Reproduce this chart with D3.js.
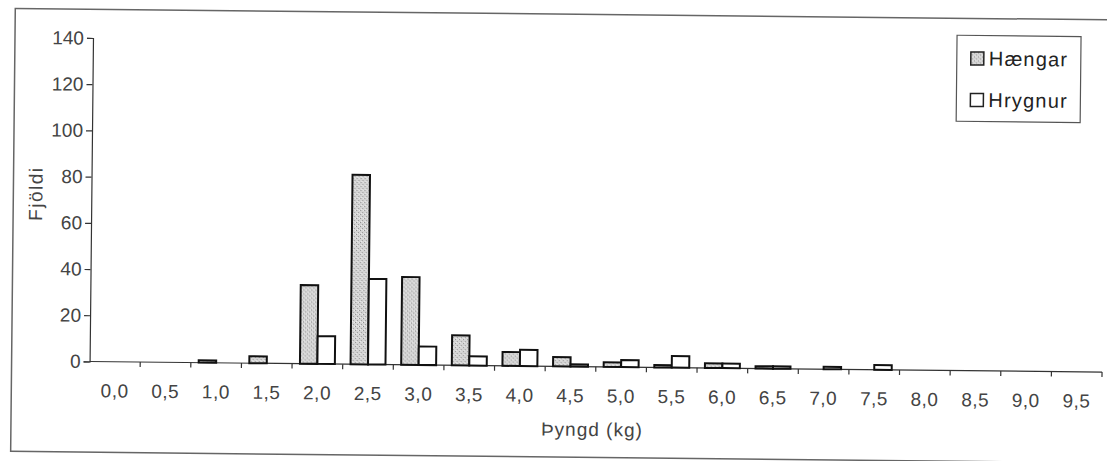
<!DOCTYPE html>
<html>
<head>
<meta charset="utf-8">
<script src="https://cdn.jsdelivr.net/npm/d3@7"></script>
<style>
  html, body { margin: 0; padding: 0; background: #fff; }
  svg { display: block; }
  text { font-family: "Liberation Sans", Arial, sans-serif; }
</style>
</head>
<body>
<svg id="chart" width="1107" height="461"></svg>
<script>
// ---- data ----
const categories = ["0,0","0,5","1,0","1,5","2,0","2,5","3,0","3,5","4,0","4,5",
                    "5,0","5,5","6,0","6,5","7,0","7,5","8,0","8,5","9,0","9,5"];
const haengar = [0, 0, 1, 3, 34, 82, 38, 13, 6, 4, 2, 1, 2, 1, 0, 0, 0, 0, 0, 0];
const hrygnur = [0, 0, 0, 0, 12, 37, 8, 4, 7, 1, 3, 5, 2, 1, 1, 2, 0, 0, 0, 0];
const seriesNames = ["Hængar", "Hrygnur"];
const yTicks = [0, 20, 40, 60, 80, 100, 120, 140];
const yTitle = "Fjöldi";
const xTitle = "Þyngd (kg)";

// ---- layout ----
const svg = d3.select("#chart");
const defs = svg.append("defs");
const pat = defs.append("pattern")
  .attr("id", "stipple").attr("patternUnits", "userSpaceOnUse")
  .attr("width", 4).attr("height", 4);
pat.append("rect").attr("width", 4).attr("height", 4).attr("fill", "#d4d4d4");
pat.append("rect").attr("x", 0).attr("y", 0).attr("width", 1).attr("height", 1).attr("fill", "#8a8a8a");
pat.append("rect").attr("x", 2).attr("y", 2).attr("width", 1).attr("height", 1).attr("fill", "#9a9a9a");
pat.append("rect").attr("x", 3).attr("y", 0).attr("width", 1).attr("height", 1).attr("fill", "#eeeeee");
pat.append("rect").attr("x", 1).attr("y", 3).attr("width", 1).attr("height", 1).attr("fill", "#eeeeee");

const root = svg.append("g").attr("transform", "rotate(0.6, 550, 230)");

// chart frame
root.append("rect")
  .attr("x", 13).attr("y", 14).attr("width", 1120).attr("height", 443)
  .attr("fill", "none").attr("stroke", "#666").attr("stroke-width", 1.5);

const x0 = 91, x1 = 1103.5, yTop = 42.8, yBase = 366.3;
const x = d3.scaleBand().domain(categories).range([x0, x1]).paddingInner(0).paddingOuter(0);
const y = d3.scaleLinear().domain([0, 140]).range([yBase, yTop]);
const groupW = x.bandwidth() * 0.69;
const barW = groupW / 2;
const off = (x.bandwidth() - groupW) / 2;

const textColor = "#444";

// y axis
const yAxis = root.append("g").attr("transform", `translate(${x0},0)`)
  .call(d3.axisLeft(y).tickValues(yTicks).tickSize(6).tickPadding(3).tickFormat(d3.format("d")));
yAxis.select(".domain").attr("stroke", "#333").attr("stroke-width", 1.2);
yAxis.selectAll(".tick line").attr("stroke", "#333").attr("stroke-width", 1.2);
yAxis.selectAll(".tick text").attr("font-size", 19).attr("fill", textColor)
  .style("font-family", "Liberation Sans, Arial, sans-serif");

// x axis (ticks between categories)
const boundaries = d3.range(categories.length + 1).map(i => x0 + i * x.step());
const xAxisG = root.append("g");
xAxisG.append("line").attr("x1", x0).attr("x2", x1).attr("y1", yBase).attr("y2", yBase)
  .attr("stroke", "#333").attr("stroke-width", 1.2);
xAxisG.selectAll("line.tk").data(boundaries.slice(1)).join("line").attr("class", "tk")
  .attr("x1", d => d).attr("x2", d => d).attr("y1", yBase).attr("y2", yBase + 5)
  .attr("stroke", "#333").attr("stroke-width", 1.2);
xAxisG.selectAll("text").data(categories).join("text")
  .attr("x", d => x(d) + x.bandwidth() / 2).attr("y", yBase + 29)
  .attr("dy", "0.35em").attr("text-anchor", "middle")
  .attr("font-size", 19).attr("letter-spacing", 0.5).attr("fill", textColor).text(d => d);

// bars
const barsG = root.append("g");
const rows = categories.map((c, i) => ({c, h: haengar[i], r: hrygnur[i]}));
barsG.selectAll("rect.h").data(rows.filter(d => d.h > 0)).join("rect").attr("class", "h")
  .attr("x", d => x(d.c) + off).attr("width", barW)
  .attr("y", d => y(d.h)).attr("height", d => yBase - y(d.h))
  .attr("fill", "url(#stipple)").attr("stroke", "#111").attr("stroke-width", 2);
barsG.selectAll("rect.r").data(rows.filter(d => d.r > 0)).join("rect").attr("class", "r")
  .attr("x", d => x(d.c) + off + barW).attr("width", barW)
  .attr("y", d => y(d.r)).attr("height", d => yBase - y(d.r))
  .attr("fill", "#fff").attr("stroke", "#111").attr("stroke-width", 2);

// axis titles
root.append("text")
  .attr("transform", `translate(42,199) rotate(-90)`)
  .attr("text-anchor", "middle").attr("font-size", 19).attr("fill", textColor)
  .attr("letter-spacing", 1.5)
  .text(yTitle);
root.append("text")
  .attr("x", 594).attr("y", 429).attr("dy", "0.35em")
  .attr("text-anchor", "middle").attr("font-size", 19).attr("fill", textColor)
  .attr("letter-spacing", 1)
  .text(xTitle);

// legend
const lg = root.append("g");
lg.append("rect").attr("x", 955).attr("y", 31).attr("width", 124).attr("height", 86)
  .attr("fill", "#fff").attr("stroke", "#555").attr("stroke-width", 1.2);
const legendItems = [
  {name: seriesNames[0], fill: "url(#stipple)", cy: 54},
  {name: seriesNames[1], fill: "#fff", cy: 95.5}
];
legendItems.forEach(it => {
  lg.append("rect").attr("x", 969).attr("y", it.cy - 6.5).attr("width", 13).attr("height", 13)
    .attr("fill", it.fill).attr("stroke", "#222").attr("stroke-width", 1.5);
  lg.append("text").attr("x", 987).attr("y", it.cy).attr("dy", "0.35em")
    .attr("font-size", 20).attr("fill", "#222").attr("letter-spacing", 1.2).text(it.name);
});
</script>
</body>
</html>
